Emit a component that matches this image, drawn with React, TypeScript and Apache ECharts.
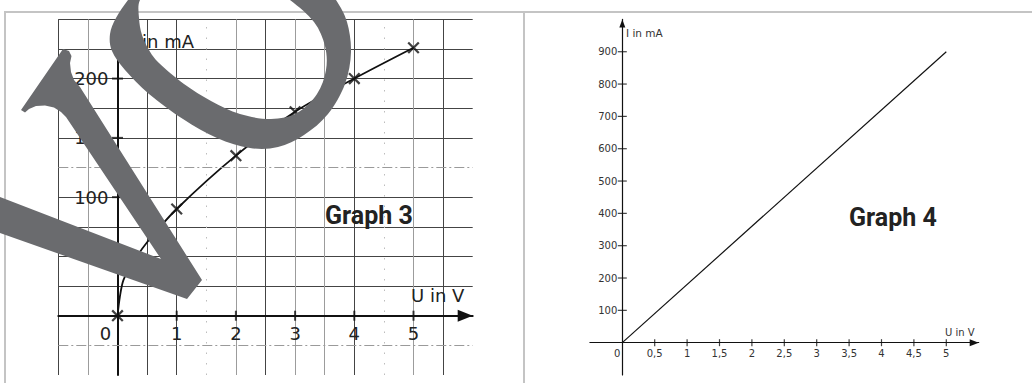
import React, { useEffect, useRef } from 'react';
import * as echarts from 'echarts';

// ---------- Graph 3 (left) ----------
const g3U = [0, 1, 2, 3, 4, 5];
const g3I = [0, 90, 135, 172, 200, 226];
const g3CurveU = [0, 0.04, 0.1, 0.25, 0.5, 1, 2, 3, 4, 5];
const g3CurveI = [0, 16, 30, 44, 62, 90, 135, 172, 200, 226];
const g3XTicks = [1, 2, 3, 4, 5];
const g3XLabels = [0, 1, 2, 3, 4, 5];
const g3YTicks = [50, 100, 150, 200];
const g3DashDotI = [125, -25];
const g3DotU = [1.5, 4.5];
const g3XRange = [-1, 6];
const g3YRange = [-50, 250];

// ---------- Graph 4 (right) ----------
const g4U = [0, 5];
const g4I = [0, 900];
const g4XTicks = [0.5, 1, 1.5, 2, 2.5, 3, 3.5, 4, 4.5, 5];
const g4XLabels = [0, 0.5, 1, 1.5, 2, 2.5, 3, 3.5, 4, 4.5, 5];
const g4YTicks = [100, 200, 300, 400, 500, 600, 700, 800, 900];
const g4XRange = [-0.5, 5.5];
const g4YRange = [-100, 1000];

const FONT = "'DejaVu Sans', Verdana, sans-serif";
const DARK = '#444444';
const LIGHT = '#9c9c9c';
const NONE = 'rgba(0,0,0,0)';
// split line colours, one per grid line from min to max
const g3VColors = [DARK, LIGHT, DARK, DARK, DARK, NONE, LIGHT, DARK, LIGHT, LIGHT, DARK, NONE, LIGHT, DARK, NONE];
const g3HColors = [NONE, NONE, DARK, DARK, DARK, DARK, DARK, NONE, DARK, DARK, DARK, DARK, DARK];

// grid boxes (pixels)
const G3 = { left: 58.3, top: 19.3, width: 414.4, height: 355.7 };
const G4 = { left: 589.9, top: 19.4, width: 388.8, height: 355.6 };

// ---------- watermark shapes ----------
function smoothClosed(pts: number[][]): string {
  const n = pts.length;
  let d = `M${pts[0][0]},${pts[0][1]}`;
  for (let i = 0; i < n; i++) {
    const p0 = pts[(i - 1 + n) % n];
    const p1 = pts[i];
    const p2 = pts[(i + 1) % n];
    const p3 = pts[(i + 2) % n];
    const c1x = p1[0] + (p2[0] - p0[0]) / 6;
    const c1y = p1[1] + (p2[1] - p0[1]) / 6;
    const c2x = p2[0] - (p3[0] - p1[0]) / 6;
    const c2y = p2[1] - (p3[1] - p1[1]) / 6;
    d += `C${c1x.toFixed(2)},${c1y.toFixed(2)},${c2x.toFixed(2)},${c2y.toFixed(2)},${p2[0]},${p2[1]}`;
  }
  return d + 'Z';
}
const oOuter = [
  [128, 0], [116, 18], [110, 34], [112, 51], [125, 70], [149, 94], [183, 119], [217, 138], [250, 148],
  [278, 147], [304, 135], [328, 114], [345, 84], [351, 52], [347, 22], [336, 0], [318, -25], [275, -45],
  [190, -45], [145, -22],
];
const oInner = [
  [140, 0], [139, 18], [142, 35], [149, 50], [159, 63], [184, 84], [211, 101], [240, 114], [271, 119],
  [297, 113], [317, 94], [326, 70], [325, 46], [314, 22], [290, 0], [262, -18], [200, -28], [155, -15],
];
const oPath = smoothClosed(oOuter) + smoothClosed([...oInner].reverse());
let registered = false;
function registerShapes() {
  if (registered) return;
  echarts.graphic.registerShape('wmO', echarts.graphic.extendPath(oPath, {}) as any);
  registered = true;
}
const vPoints = [
  [21, 110], [63, 49], [69, 51], [71.5, 56], [70, 63], [71, 72], [74, 80], [80, 87], [202, 280], [187, 299],
  [0, 233], [-10, 229], [-10, 194], [0, 197], [161, 259], [66, 117], [61, 112], [54, 107.5], [45, 105.5],
  [36, 106], [29, 109], [25, 112.5],
];
const WM = '#6a6b6e';

const crossPath = 'path://M5.1,0H6.9V5.1H12V6.9H6.9V12H5.1V6.9H0V5.1H5.1Z';

// distance of the zero line from the grid's bottom / left edge
const zeroFromStart = (range: number[], size: number) => ((0 - range[0]) / (range[1] - range[0])) * size;

export default function App() {
  const ref = useRef<HTMLDivElement>(null);
  useEffect(() => {
    if (!ref.current) return;
    registerShapes();
    const chart = echarts.init(ref.current, undefined, { renderer: 'svg' });
    const zip = (a: number[], b: number[]) => a.map((v, i) => [v, b[i]]);
    const txt = (text: string, x: number, y: number, font: string, fill: string, z = 10) => ({
      type: 'text', x, y, z, silent: true,
      style: { text, font, fill, align: 'left', verticalAlign: 'middle', textAlign: 'left', textVerticalAlign: 'middle' },
    });
    const option: any = {
      animation: false,
      backgroundColor: '#ffffff',
      textStyle: { fontFamily: FONT },
      grid: [
        { ...G3, containLabel: false, outerBoundsMode: 'none' },
        { ...G4, containLabel: false, outerBoundsMode: 'none' },
      ],
      xAxis: [
        {
          gridIndex: 0, type: 'value', min: g3XRange[0], max: g3XRange[1], interval: 0.5, position: 'bottom',
          offset: -zeroFromStart(g3YRange, G3.height),
          axisLine: { onZero: false, lineStyle: { color: '#111', width: 2 }, symbol: ['none', 'triangle'], symbolSize: [12, 15], symbolOffset: [0, -7.5] },
          axisTick: { show: false },
          axisLabel: {
            customValues: g3XLabels, margin: 9, fontSize: 18, color: '#222', fontFamily: FONT,
            formatter: (v: number) => (v === 0 ? '{o|0}' : String(v)),
            rich: { o: { padding: [0, 24, 0, 0], fontSize: 18, color: '#222', fontFamily: FONT } },
          },
          splitLine: { show: true, lineStyle: { color: g3VColors, width: 1 } },
        },
        {
          gridIndex: 1, type: 'value', min: g4XRange[0], max: g4XRange[1], interval: 0.5, position: 'bottom',
          offset: -zeroFromStart(g4YRange, G4.height),
          axisLine: { onZero: false, lineStyle: { color: '#111', width: 1.2 }, symbol: ['none', 'triangle'], symbolSize: [7, 9], symbolOffset: [0, -4.5] },
          axisTick: { show: false },
          axisLabel: {
            customValues: g4XLabels, margin: 6, fontSize: 10, color: '#333', fontFamily: FONT,
            formatter: (v: number) => (v === 0 ? '{o|0}' : String(v).replace('.', ',')),
            rich: { o: { padding: [0, 10, 0, 0], fontSize: 10, color: '#333', fontFamily: FONT } },
          },
          splitLine: { show: false },
        },
      ],
      yAxis: [
        {
          gridIndex: 0, type: 'value', min: g3YRange[0], max: g3YRange[1], interval: 25, position: 'left',
          offset: -zeroFromStart(g3XRange, G3.width),
          axisLine: { onZero: false, lineStyle: { color: '#111', width: 2 }, symbol: ['none', 'triangle'], symbolSize: [12, 15], symbolOffset: [0, -7.5] },
          axisTick: { show: false },
          axisLabel: { customValues: g3YTicks, margin: 9, fontSize: 18, color: '#222', fontFamily: FONT },
          splitLine: { show: true, lineStyle: { color: g3HColors, width: 1 } },
        },
        {
          gridIndex: 1, type: 'value', min: g4YRange[0], max: g4YRange[1], interval: 100, position: 'left',
          offset: -zeroFromStart(g4XRange, G4.width),
          axisLine: { onZero: false, lineStyle: { color: '#111', width: 1.2 }, symbol: ['none', 'triangle'], symbolSize: [6, 8], symbolOffset: [0, -4] },
          axisTick: { show: false },
          axisLabel: { customValues: g4YTicks, margin: 5, fontSize: 10, color: '#333', fontFamily: FONT },
          splitLine: { show: false },
        },
      ],
      series: [
        {
          type: 'line', xAxisIndex: 0, yAxisIndex: 0, silent: true,
          data: zip(g3CurveU, g3CurveI), smooth: 0.3, showSymbol: false,
          lineStyle: { color: '#111', width: 1.8 },
          markLine: {
            silent: true, symbol: ['none', 'none'], label: { show: false },
            data: [
              ...g3DashDotI.map((v) => ({ yAxis: v, lineStyle: { color: '#9a9a9a', type: [10, 3, 2, 3], width: 1 } })),
              ...g3DotU.map((v) => ({ xAxis: v, lineStyle: { color: '#bdbdbd', type: [1.5, 9], width: 1 } })),
            ],
          },
          z: 3,
        },
        {
          type: 'scatter', xAxisIndex: 0, yAxisIndex: 0, silent: true,
          data: zip(g3U, g3I), symbol: crossPath, symbolRotate: 45, symbolSize: 15,
          itemStyle: { color: '#111' }, z: 4,
        },
        {
          type: 'scatter', xAxisIndex: 0, yAxisIndex: 0, silent: true,
          data: g3XTicks.map((u) => [u, 0]), symbol: 'rect', symbolSize: [2, 10], itemStyle: { color: '#111' }, z: 4,
        },
        {
          type: 'scatter', xAxisIndex: 0, yAxisIndex: 0, silent: true,
          data: g3YTicks.map((i) => [0, i]), symbol: 'rect', symbolSize: [11, 2], itemStyle: { color: '#111' }, z: 4,
        },
        {
          type: 'line', xAxisIndex: 1, yAxisIndex: 1, silent: true,
          data: zip(g4U, g4I), showSymbol: false, lineStyle: { color: '#111', width: 1.2 }, z: 3,
        },
        {
          type: 'scatter', xAxisIndex: 1, yAxisIndex: 1, silent: true,
          data: g4XTicks.map((u) => [u, 0]), symbol: 'rect', symbolSize: [1.2, 7], itemStyle: { color: '#111' }, z: 4,
        },
        {
          type: 'scatter', xAxisIndex: 1, yAxisIndex: 1, silent: true,
          data: g4YTicks.map((i) => [0, i]), symbol: 'rect', symbolSize: [9, 1.2], itemStyle: { color: '#111' }, z: 4,
        },
      ],
      graphic: [
        { type: 'line', z: 1, silent: true, shape: { x1: 4, y1: 12, x2: 1032, y2: 12 }, style: { stroke: '#c4c4c4', lineWidth: 2 } },
        { type: 'line', z: 1, silent: true, shape: { x1: 5, y1: 12, x2: 5, y2: 383 }, style: { stroke: '#c4c4c4', lineWidth: 2 } },
        { type: 'line', z: 1, silent: true, shape: { x1: 524, y1: 12, x2: 524, y2: 383 }, style: { stroke: '#c4c4c4', lineWidth: 2 } },
        txt('I in mA', 131, 41, `18px ${FONT}`, '#222'),
        txt('U in V', 411, 295, `18px ${FONT}`, '#222'),
        txt('Graph 3', 325, 215, `bold 25px Roboto, 'Noto Sans', sans-serif`, '#222'),
        txt('I in mA', 626, 33, `10.5px ${FONT}`, '#333'),
        txt('U in V', 945, 332, `10px ${FONT}`, '#333'),
        txt('Graph 4', 849, 217, `bold 25px Roboto, 'Noto Sans', sans-serif`, '#222'),
        { type: 'polygon', z: 100, silent: true, shape: { points: vPoints }, style: { fill: WM } },
        { type: 'wmO', z: 100, silent: true, x: 0, y: 0, scaleX: 1, scaleY: 1, style: { fill: WM } },
      ],
    };
    chart.setOption(option);
    return () => chart.dispose();
  }, []);
  return <div ref={ref} style={{ position: 'fixed', left: 0, top: 0, width: 1032, height: 383, background: '#fff' }} />;
}
